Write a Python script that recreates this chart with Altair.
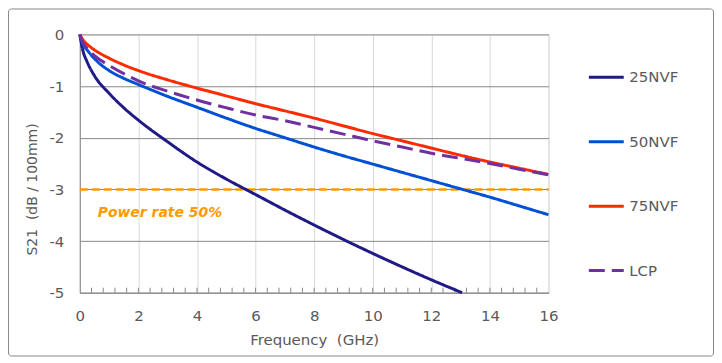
import altair as alt
import pandas as pd

# ---- data ----
freq = [0, 0.1, 0.25, 0.5, 1, 1.5, 2, 3, 4, 5, 6, 7, 8, 9, 10, 11, 12, 13, 14, 15, 16]
s_25nvf = [0, -0.3, -0.53, -0.8, -1.14, -1.42, -1.66, -2.08, -2.47, -2.8, -3.1, -3.4, -3.69, -3.97, -4.24, -4.5, -4.75]
s_25nvf_end = (13.05, -5.0)
s_50nvf = [0, -0.18, -0.3, -0.47, -0.7, -0.85, -0.97, -1.2, -1.41, -1.62, -1.82, -2.0, -2.18, -2.35, -2.51, -2.67, -2.83, -2.99, -3.15, -3.32, -3.49]
s_75nvf = [0, -0.1, -0.19, -0.3, -0.46, -0.59, -0.7, -0.88, -1.04, -1.19, -1.34, -1.48, -1.62, -1.77, -1.92, -2.06, -2.2, -2.34, -2.47, -2.59, -2.71]
s_lcp = [0, -0.15, -0.27, -0.41, -0.6, -0.76, -0.9, -1.1, -1.27, -1.42, -1.56, -1.67, -1.8, -1.93, -2.06, -2.18, -2.3, -2.4, -2.5, -2.61, -2.72]

series_names = ["25NVF", "50NVF", "75NVF", "LCP"]
series_colors = ["#1F1A85", "#0050D6", "#FF2A00", "#7030A0"]
series_dashes = [[1, 0], [1, 0], [1, 0], [16, 7]]

x_major_ticks = [0, 2, 4, 6, 8, 10, 12, 14, 16]
y_ticks = [0, -1, -2, -3, -4, -5]
minor_ticks = [round(0.4 * k, 1) for k in range(1, 40)]

threshold_value = -3
threshold_label = "Power rate 50%"
threshold_label_pos = (0.61, -3.45)

# ---- build tables ----
rows = []
for f, v in zip(freq, s_25nvf):
    rows.append({"series": "25NVF", "freq": f, "value": v})
rows.append({"series": "25NVF", "freq": s_25nvf_end[0], "value": s_25nvf_end[1]})
for name, vals in [("50NVF", s_50nvf), ("75NVF", s_75nvf), ("LCP", s_lcp)]:
    for f, v in zip(freq, vals):
        rows.append({"series": name, "freq": f, "value": v})
df = pd.DataFrame(rows)

FONT = "DejaVu Sans"
GRAY = "#595959"
LINE_GRAY = "#888888"
NB = "\u00a0"

xscale = alt.Scale(domain=[0, 16], nice=False, zero=False)
yscale = alt.Scale(domain=[-5, 0], nice=False, zero=False)

lines = alt.Chart(df).mark_line(strokeWidth=3, interpolate="monotone").encode(
    x=alt.X("freq:Q", scale=xscale,
            axis=alt.Axis(values=x_major_ticks, title="Frequency" + NB + NB + "(GHz)", grid=True,
                          gridColor="#D9D9D9", gridWidth=1, tickSize=0, labelPadding=16,
                          labelFlush=False, labelExpr="toString(datum.value)",
                          domainColor=LINE_GRAY, labelFontSize=15, labelColor=GRAY,
                          labelFont=FONT, titleFont=FONT, titleFontSize=15,
                          titleColor=GRAY, titleFontWeight="normal", titlePadding=9)),
    y=alt.Y("value:Q", scale=yscale,
            axis=alt.Axis(values=y_ticks, title="S21" + NB + NB + "(dB / 100mm)", grid=True,
                          gridColor=LINE_GRAY, gridWidth=1, tickSize=0, labelPadding=16,
                          labelFlush=False, labelExpr="toString(datum.value)",
                          domainColor=LINE_GRAY, labelFontSize=15, labelColor=GRAY,
                          labelFont=FONT, titleFont=FONT, titleFontSize=14,
                          titleColor=GRAY, titleFontWeight="normal",
                          titleX=-47, titleY=155, titleBaseline="middle")),
    color=alt.Color("series:N", scale=alt.Scale(domain=series_names, range=series_colors),
                    title=None,
                    legend=alt.Legend(orient="none", legendX=509, legendY=24,
                                      symbolType="stroke", symbolSize=1225,
                                      symbolStrokeWidth=3, labelFontSize=15,
                                      labelFont=FONT, labelColor=GRAY, labelOffset=4,
                                      rowPadding=37.6)),
    strokeDash=alt.StrokeDash("series:N", scale=alt.Scale(domain=series_names, range=series_dashes),
                              title=None),
)

thr_df = pd.DataFrame({"y": [threshold_value], "x1": [0], "x2": [16]})
threshold = alt.Chart(thr_df).mark_rule(color="#FF9900", strokeWidth=2.5, strokeDash=[8, 4]).encode(
    x=alt.X("x1:Q", scale=xscale), x2="x2:Q", y=alt.Y("y:Q", scale=yscale)
)

lab_df = pd.DataFrame({"x": [threshold_label_pos[0]], "y": [threshold_label_pos[1]], "t": [threshold_label]})
label = alt.Chart(lab_df).mark_text(align="left", baseline="middle", font=FONT, fontSize=14,
                                    fontWeight="bold", fontStyle="italic", color="#FF9900").encode(
    x=alt.X("x:Q", scale=xscale), y=alt.Y("y:Q", scale=yscale), text="t:N"
)

tick_df = pd.DataFrame({"f": minor_ticks})
ticks = alt.Chart(tick_df).mark_rule(color=LINE_GRAY, strokeWidth=1).encode(
    x=alt.X("f:Q", scale=xscale), y=alt.value(259), y2=alt.value(254)
)

frame = alt.Chart(pd.DataFrame({"a": [0]})).mark_rect(
    filled=False, stroke=LINE_GRAY, strokeWidth=1, cornerRadius=3
).encode(x=alt.value(-71.5), x2=alt.value(635.5), y=alt.value(-25.5), y2=alt.value(322.5))

chart = alt.layer(frame, ticks, threshold, lines, label).properties(
    width=470, height=259,
    autosize=alt.AutoSizeParams(type="none"),
    padding={"left": 72, "top": 26, "right": 166, "bottom": 65},
).configure_view(stroke=LINE_GRAY, strokeWidth=1).configure(background="white")

chart.save("out.html", embed_options={"renderer": "svg", "actions": False})
